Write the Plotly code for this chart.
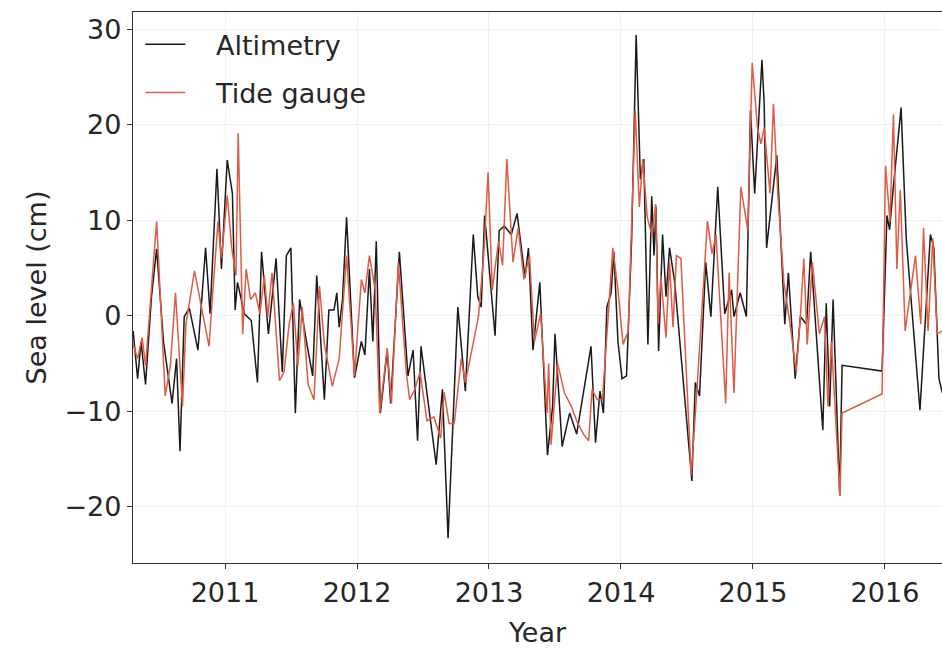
import plotly.graph_objects as go

# Altimetry (black)
alt_year = [2010.304, 2010.338, 2010.364, 2010.398, 2010.443, 2010.482, 2010.534, 2010.599, 2010.633, 2010.659,
            2010.691, 2010.730, 2010.795, 2010.853, 2010.887, 2010.939, 2010.973, 2011.017, 2011.056, 2011.077,
            2011.095, 2011.147, 2011.199, 2011.246, 2011.277, 2011.329, 2011.387, 2011.434, 2011.465, 2011.499,
            2011.533, 2011.565, 2011.617, 2011.664, 2011.695, 2011.753, 2011.787, 2011.826, 2011.847, 2011.865,
            2011.890, 2011.921, 2011.981, 2012.033, 2012.060, 2012.094, 2012.120, 2012.146, 2012.177, 2012.229,
            2012.255, 2012.321, 2012.386, 2012.425, 2012.459, 2012.485, 2012.530, 2012.600, 2012.647, 2012.690,
            2012.764, 2012.821, 2012.881, 2012.915, 2012.941, 2012.967, 2013.046, 2013.077, 2013.116, 2013.169,
            2013.213, 2013.273, 2013.299, 2013.333, 2013.385, 2013.443, 2013.482, 2013.500, 2013.554, 2013.611,
            2013.664, 2013.773, 2013.807, 2013.841, 2013.867, 2013.893, 2013.925, 2013.946, 2013.977, 2014.008,
            2014.042, 2014.081, 2014.115, 2014.147, 2014.173, 2014.204, 2014.233, 2014.250, 2014.265, 2014.285,
            2014.315, 2014.341, 2014.368, 2014.407, 2014.537, 2014.563, 2014.595, 2014.642, 2014.681, 2014.733,
            2014.786, 2014.838, 2014.856, 2014.903, 2014.950, 2014.981, 2015.013, 2015.068, 2015.085, 2015.103,
            2015.181, 2015.241, 2015.268, 2015.320, 2015.359, 2015.406, 2015.437, 2015.529, 2015.555, 2015.581,
            2015.607, 2015.657, 2015.675, 2015.978, 2016.015, 2016.035, 2016.060, 2016.122, 2016.161, 2016.265,
            2016.344, 2016.370, 2016.409, 2016.435]
alt_cm = [-1.6, -6.6, -2.7, -7.2, 2.0, 7.0, -2.7, -9.2, -4.5, -14.2,
          -0.1, 0.8, -3.6, 7.1, 0.2, 15.4, 4.9, 16.3, 12.8, 0.6,
          3.5, 0.2, -0.5, -7.0, 6.7, -1.9, 6.0, -5.9, 6.3, 7.1,
          -10.2, 1.7, -2.7, -6.3, 4.2, -8.8, 0.6, 0.6, 2.4, -1.2,
          1.7, 10.3, -6.5, -2.7, -4.1, 4.9, -2.7, 7.8, -10.2, -3.6,
          -9.2, 6.7, -6.3, -3.6, -13.1, -3.2, -8.1, -15.6, -7.7, -23.3,
          0.9, -7.9, 8.5, 2.0, 0.9, 10.5, -2.1, 8.9, 9.4, 8.5,
          10.7, 4.0, 7.1, -3.6, 3.5, -14.6, -9.5, -1.9, -13.7, -10.2,
          -12.4, -3.2, -13.3, -7.9, -10.2, 0.9, 2.4, 6.7, -2.7, -6.6,
          -6.3, 8.1, 29.4, 14.3, 16.4, -3.0, 12.5, 6.3, 11.4, -3.7,
          8.5, 2.0, 7.1, 3.5, -17.3, -7.0, -8.4, 5.6, -0.1, 13.5,
          0.2, 2.7, -0.1, 2.4, -0.1, 21.5, 12.8, 26.8, 22.2, 7.1,
          16.8, -0.9, 4.5, -6.6, -0.1, -0.9, 6.7, -12.0, 1.3, -9.5,
          1.7, -18.8, -5.2, -5.8, 10.5, 9.0, 13.0, 21.8, 8.1, -9.9,
          8.5, 7.1, -6.6, -8.1]

# Tide gauge (red)
tg_year = [2010.304, 2010.338, 2010.372, 2010.398, 2010.482, 2010.547, 2010.586, 2010.625, 2010.678, 2010.704,
           2010.769, 2010.808, 2010.879, 2010.913, 2010.947, 2010.973, 2011.017, 2011.051, 2011.083, 2011.100,
           2011.134, 2011.160, 2011.194, 2011.230, 2011.264, 2011.298, 2011.324, 2011.356, 2011.413, 2011.447,
           2011.486, 2011.518, 2011.552, 2011.585, 2011.630, 2011.674, 2011.716, 2011.753, 2011.813, 2011.865,
           2011.921, 2011.981, 2012.033, 2012.060, 2012.094, 2012.138, 2012.172, 2012.229, 2012.261, 2012.313,
           2012.373, 2012.399, 2012.438, 2012.478, 2012.530, 2012.582, 2012.634, 2012.660, 2012.698, 2012.737,
           2012.790, 2012.821, 2012.868, 2012.920, 2012.960, 2012.993, 2013.025, 2013.072, 2013.103, 2013.135,
           2013.182, 2013.221, 2013.265, 2013.307, 2013.344, 2013.391, 2013.440, 2013.452, 2013.470, 2013.520,
           2013.572, 2013.624, 2013.664, 2013.716, 2013.755, 2013.781, 2013.820, 2013.859, 2013.899, 2013.938,
           2013.977, 2014.016, 2014.055, 2014.108, 2014.139, 2014.165, 2014.199, 2014.233, 2014.263, 2014.281,
           2014.302, 2014.341, 2014.368, 2014.394, 2014.420, 2014.454, 2014.532, 2014.577, 2014.655, 2014.690,
           2014.720, 2014.793, 2014.819, 2014.856, 2014.908, 2014.961, 2014.994, 2015.034, 2015.060, 2015.085,
           2015.129, 2015.155, 2015.189, 2015.234, 2015.281, 2015.328, 2015.359, 2015.385, 2015.411, 2015.450,
           2015.503, 2015.542, 2015.568, 2015.594, 2015.659, 2015.675, 2015.978, 2016.004, 2016.038, 2016.064,
           2016.090, 2016.116, 2016.153, 2016.231, 2016.271, 2016.292, 2016.326, 2016.362, 2016.396, 2016.435]
tg_cm = [-3.0, -4.5, -2.3, -5.2, 9.9, -8.4, -5.2, 2.4, -9.5, -0.9,
         4.7, 2.0, -3.2, 3.5, 9.9, 6.0, 12.6, 7.1, 4.2, 19.1,
         -1.9, 4.9, 1.7, 2.4, 0.2, 4.2, -0.1, 4.5, -6.8, -5.9,
         -0.9, 1.3, -5.2, 0.9, -7.2, -8.8, 3.1, -3.0, -7.4, -4.5,
         6.3, -6.3, 3.8, 2.4, 6.3, 2.7, -10.2, -3.4, -9.2, 5.6,
         -5.9, -8.8, -7.7, -5.9, -11.0, -10.6, -12.8, -8.0, -11.3, -11.3,
         -4.5, -7.0, -3.7, -0.1, 6.3, 15.0, 2.7, 7.8, 5.3, 16.4,
         5.6, 9.2, 3.8, 6.3, -2.7, 0.2, -10.2, -5.0, -13.5, -5.0,
         -8.1, -9.5, -11.0, -12.4, -13.1, -7.7, -8.8, -8.8, -0.9, 7.1,
         2.7, -3.0, -1.6, 21.5, 11.4, 16.4, 10.3, 8.5, 11.7, -0.9,
         4.2, -2.3, 5.6, -1.2, 6.3, 6.0, -16.7, -7.4, 9.9, 6.5,
         8.5, -9.2, 4.5, -8.1, 13.5, 8.9, 26.5, 19.7, 18.0, 19.7,
         12.8, 22.2, 12.5, 3.5, -0.9, -5.9, -0.1, 6.0, -3.0, 5.6,
         -1.9, -0.1, -9.5, -2.7, -18.9, -10.2, -8.2, 15.7, 9.9, 21.1,
         4.9, 13.2, -1.6, 6.3, -0.9, 9.2, -1.6, 8.1, -1.9, -1.6]

x_ticks = [2011, 2012, 2013, 2014, 2015, 2016]
x_tick_labels = ["2011", "2012", "2013", "2014", "2015", "2016"]
y_ticks = [-20, -10, 0, 10, 20, 30]

FONT = "DejaVu Sans"
TXT = "#262626"
PAD = "\u00a0\u00a0\u00a0"

fig = go.Figure()
fig.add_trace(go.Scatter(x=alt_year, y=alt_cm, mode="lines", name=PAD + "Altimetry",
                         legendgroup="a", line=dict(color="#1a1a1a", width=1.5)))
fig.add_trace(go.Scatter(x=tg_year, y=tg_cm, mode="lines", name=PAD + "Tide gauge",
                         legendgroup="b", line=dict(color="#e05a46", width=1.5)))

fig.update_layout(
    width=942, height=650,
    margin=dict(l=133, r=0, t=12, b=87),
    paper_bgcolor="white", plot_bgcolor="white",
    font=dict(family=FONT, size=27, color=TXT),
    showlegend=True,
    legend=dict(x=0.009, y=0.985, xanchor="left", yanchor="top",
                bgcolor="rgba(255,255,255,0)", font=dict(size=27, color=TXT),
                tracegroupgap=10, itemwidth=40),
    xaxis=dict(range=[2010.303, 2016.432], tickvals=x_ticks, ticktext=x_tick_labels,
               showgrid=True, gridcolor="#f0f0f0", gridwidth=1, zeroline=False,
               showline=True, linecolor="#333333", linewidth=1.3, mirror=True,
               ticks="outside", ticklen=5, tickwidth=1.2, tickcolor="#333333",
               title=dict(text="Year", standoff=16, font=dict(size=27, color=TXT)),
               tickfont=dict(size=27, color=TXT)),
    yaxis=dict(range=[-25.9, 31.81], tickvals=y_ticks,
               showgrid=True, gridcolor="#f0f0f0", gridwidth=1, zeroline=False,
               showline=True, linecolor="#333333", linewidth=1.3,
               ticks="outside", ticklen=5, tickwidth=1.2, tickcolor="#333333",
               title=dict(text="Sea level (cm)", standoff=10, font=dict(size=27, color=TXT)),
               tickfont=dict(size=27, color=TXT)),
)

fig.write_html("out.html", config={"displayModeBar": False},
               post_script="document.body.style.margin='0';document.body.style.overflow='hidden';")
